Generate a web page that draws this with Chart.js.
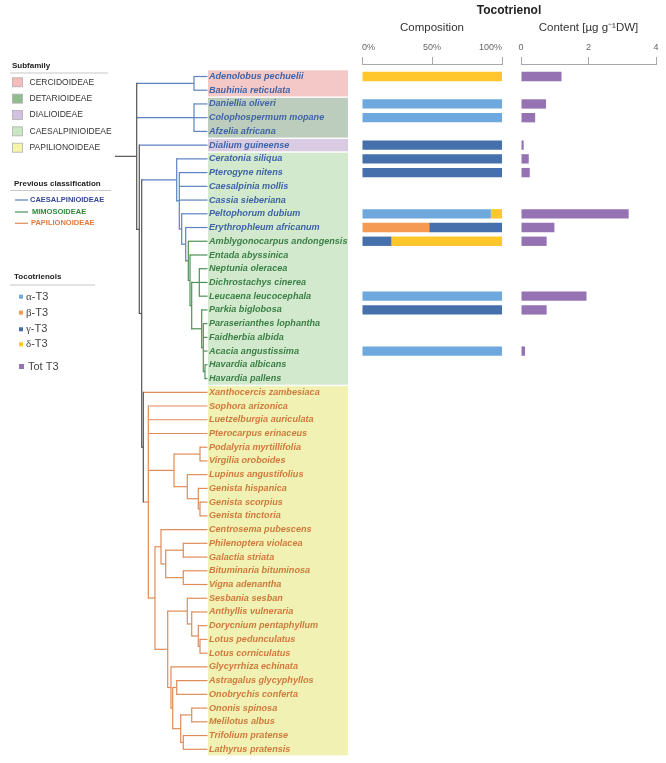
<!DOCTYPE html>
<html><head><meta charset="utf-8">
<script src="https://cdn.jsdelivr.net/npm/chart.js@4.4.1/dist/chart.umd.min.js"></script>
<style>html,body{margin:0;padding:0;background:#fff}canvas{display:block}</style>
</head><body>
<canvas id="c" width="666" height="763"></canvas>
<script>
// ---------------- DATA ----------------
const species = [
  'Adenolobus pechuelii','Bauhinia reticulata','Daniellia oliveri','Colophospermum mopane','Afzelia africana',
  'Dialium guineense','Ceratonia siliqua','Pterogyne nitens','Caesalpinia mollis','Cassia sieberiana',
  'Peltophorum dubium','Erythrophleum africanum','Amblygonocarpus andongensis','Entada abyssinica','Neptunia oleracea',
  'Dichrostachys cinerea','Leucaena leucocephala','Parkia biglobosa','Paraserianthes lophantha','Faidherbia albida',
  'Acacia angustissima','Havardia albicans','Havardia pallens','Xanthocercis zambesiaca','Sophora arizonica',
  'Luetzelburgia auriculata','Pterocarpus erinaceus','Podalyria myrtillifolia','Virgilia oroboides','Lupinus angustifolius',
  'Genista hispanica','Genista scorpius','Genista tinctoria','Centrosema pubescens','Philenoptera violacea',
  'Galactia striata','Bituminaria bituminosa','Vigna adenantha','Sesbania sesban','Anthyllis vulneraria',
  'Dorycnium pentaphyllum','Lotus pedunculatus','Lotus corniculatus','Glycyrrhiza echinata','Astragalus glycyphyllos',
  'Onobrychis conferta','Ononis spinosa','Melilotus albus','Trifolium pratense','Lathyrus pratensis'
];
const _ = null;
// composition (%), rows 0..49
const alphaT3 = [_,_,100,100,_,_,_,_,_,_, 92,_,_,_,_,_,100,_,_,_, 100,_,_,_,_,_,_,_,_,_, _,_,_,_,_,_,_,_,_,_, _,_,_,_,_,_,_,_,_,_];
const betaT3  = [_,_,_,_,_,_,_,_,_,_, _,48,_,_,_,_,_,_,_,_, _,_,_,_,_,_,_,_,_,_, _,_,_,_,_,_,_,_,_,_, _,_,_,_,_,_,_,_,_,_];
const gammaT3 = [_,_,_,_,_,100,100,100,_,_, _,52,21,_,_,_,_,100,_,_, _,_,_,_,_,_,_,_,_,_, _,_,_,_,_,_,_,_,_,_, _,_,_,_,_,_,_,_,_,_];
const deltaT3 = [100,_,_,_,_,_,_,_,_,_, 8,_,79,_,_,_,_,_,_,_, _,_,_,_,_,_,_,_,_,_, _,_,_,_,_,_,_,_,_,_, _,_,_,_,_,_,_,_,_,_];
// content (µg g-1 DW)
const totT3   = [1.2,_,0.74,0.42,_,0.08,0.23,0.26,_,_, 3.19,0.99,0.76,_,_,_,1.94,0.76,_,_, 0.12,_,_,_,_,_,_,_,_,_, _,_,_,_,_,_,_,_,_,_, _,_,_,_,_,_,_,_,_,_];
const compTickStep = 50;
const contTickStep = 2;

const subfamilies = ['CERCIDOIDEAE','DETARIOIDEAE','DIALIOIDEAE','CAESALPINIOIDEAE','PAPILIONOIDEAE'];
const subfamilyFirstRow = [0, 2, 5, 6, 23];
const subfamilyLastRow  = [1, 4, 5, 22, 49];
const prevClasses = ['CAESALPINIOIDEAE','MIMOSOIDEAE','PAPILIONOIDEAE'];
const prevFirstRow = [0, 12, 23];
const prevLastRow  = [11, 22, 49];
const tocoGreek = ['α','β','γ','δ'];

// cladogram: T(depth, clade, ...children), leaves = row indices ; clade -1 = backbone
const T = (d, k, ...ch) => ({d, k, ch});
const mimo = T(73.3,1, 12,
  T(75,1, 13,
    T(76.7,1,
      T(84.3,1, 14,15,16),
      T(86.7,1, 17,
        T(88.3,1, 18,19,20,
          T(90,1, 21,22))))));
const caes = T(61.7,0, 6,
  T(64.3,0, 7,8,9,
    T(66.7,0, 10,
      T(70.7,0, 11, mimo))));
const papA = T(59,2,
  T(85,2, 27,28),
  T(72.3,2, 29,
    T(83.3,2, 30,
      T(85,2, 31,32))));
const papB1 = T(46,2, 33,
  T(50.7,2,
    T(68.3,2, 34,35),
    T(68.3,2, 36,37)));
const papB2a = T(72.3,2, 38,
  T(76.7,2, 39,
    T(83.3,2, 40,
      T(85,2, 41,42))));
const papB2b = T(56,2, 43,
  T(57.7,2,
    T(61.7,2, 44,45),
    T(65.7,2,
      T(76.7,2, 46,47),
      T(68.3,2, 48,49))));
const papil = T(28.3,-1, 23,
  T(33.3,2, 24,25,26, papA,
    T(40,2, papB1,
      T(52.7,2, papB2a, papB2b))));
const tree = T(21.7,-1,
  T(79,0, 0,1),
  T(79,0, 2,3,4),
  T(24.3,-1, 5,
    T(26.7,-1, caes, papil)));

// ---------------- STYLE ----------------
const FONT = '"Liberation Sans", Arial, sans-serif';
const COL = {alpha:'#6fa8dc', beta:'#f59a52', gamma:'#4670ab', delta:'#ffc72c', tot:'#9572b2'};
const SUB_BAND = ['#f5c8c8','#bccdbd','#d8cbe2','#d2e9cd','#f1f1b3'];
const SUB_SWATCH = ['#f4bcbc','#8fbd8f','#d3c1e2','#c9e7c2','#f6f6ab'];
const PREV_TEXT = ['#38489b','#2e8a3e','#e17a3a'];
const PREV_LABEL = ['#3f64a7','#3b8047','#cf7b3d'];
const PREV_LINE = ['#5c82c2','#4c9157','#de8d5a'];
const BACKBONE = '#555';
const TREE_X0 = 115, LEAF_X = 207.5, BAND_L = 208, BAND_R = 348;

Chart.defaults.font.family = FONT;

function prevClassOf(row) {
  for (let i = 0; i < prevClasses.length; i++) if (row >= prevFirstRow[i] && row <= prevLastRow[i]) return i;
  return 0;
}
function lineCol(k) { return k < 0 ? BACKBONE : PREV_LINE[k]; }

function seg(ctx, x1, y1, x2, y2, color) {
  ctx.strokeStyle = color; ctx.beginPath(); ctx.moveTo(x1, y1); ctx.lineTo(x2, y2); ctx.stroke();
}
function drawNode(ctx, n, ys) {
  if (typeof n === 'number') return {x: LEAF_X, y: ys.getPixelForValue(n), k: prevClassOf(n)};
  const kids = n.ch.map(c => drawNode(ctx, c, ys));
  const x = TREE_X0 + n.d;
  const y0 = kids[0].y, y1 = kids[kids.length - 1].y;
  kids.forEach(c => seg(ctx, x, c.y, c.x, c.y, lineCol(c.k)));
  seg(ctx, x, y0 - 0.6, x, y1 + 0.6, lineCol(n.k));
  return {x, y: (y0 + y1) / 2, k: n.k};
}

const decor = {
  id: 'decor',
  beforeDraw(chart) {
    const ctx = chart.ctx, ys = chart.scales.y;
    ctx.save();
    // subfamily bands
    subfamilies.forEach((s, i) => {
      const t = ys.getPixelForValue(subfamilyFirstRow[i] - 0.5) + 0.7;
      const b = ys.getPixelForValue(subfamilyLastRow[i] + 0.5) - 0.7;
      ctx.fillStyle = SUB_BAND[i];
      ctx.fillRect(BAND_L, t, BAND_R - BAND_L, b - t);
    });
    // tree
    ctx.lineWidth = 1.2; ctx.lineCap = 'butt';
    const r = drawNode(ctx, tree, ys);
    seg(ctx, TREE_X0, r.y, r.x, r.y, BACKBONE);

    // legends
    ctx.textBaseline = 'middle'; ctx.textAlign = 'left';
    ctx.lineWidth = 1.2;
    ctx.fillStyle = '#222'; ctx.font = 'bold 8px ' + FONT;
    ctx.fillText('Subfamily', 12, 66);
    seg(ctx, 10, 73, 108, 73, '#c8c8c8');
    subfamilies.forEach((s, i) => {
      const yy = 82.3 + i * 16.35;
      ctx.fillStyle = SUB_SWATCH[i];
      ctx.fillRect(12.5, yy - 4.5, 10, 9);
      ctx.strokeStyle = '#b0b0b0'; ctx.lineWidth = 0.8;
      ctx.strokeRect(12.5, yy - 4.5, 10, 9);
      ctx.fillStyle = '#333'; ctx.font = '8.5px ' + FONT;
      ctx.fillText(s, 29.5, yy);
    });
    ctx.lineWidth = 1.2;
    ctx.fillStyle = '#222'; ctx.font = 'bold 8px ' + FONT;
    ctx.fillText('Previous classification', 14, 184);
    seg(ctx, 10, 190.5, 111, 190.5, '#c8c8c8');
    const prevY = [200, 212, 223.3], prevTx = [30, 32, 31];
    prevClasses.forEach((s, i) => {
      seg(ctx, 15, prevY[i], 28, prevY[i], PREV_LINE[i]);
      ctx.fillStyle = PREV_TEXT[i]; ctx.font = 'bold 7.5px ' + FONT;
      ctx.fillText(s, prevTx[i], prevY[i]);
    });
    ctx.fillStyle = '#222'; ctx.font = 'bold 8px ' + FONT;
    ctx.fillText('Tocotrienols', 14, 277);
    seg(ctx, 10, 285, 95, 285, '#c8c8c8');
    const tCols = [COL.alpha, COL.beta, COL.gamma, COL.delta];
    const tY = [296.7, 312.7, 329.3, 344.3];
    tocoGreek.forEach((g, i) => {
      ctx.fillStyle = tCols[i];
      ctx.fillRect(19, tY[i] - 2, 4, 4);
      ctx.fillStyle = '#444';
      ctx.font = '11px "Liberation Serif", serif';
      ctx.fillText(g, 26, tY[i]);
      const w = ctx.measureText(g).width;
      ctx.font = '11px ' + FONT;
      ctx.fillText('-T3', 26 + w, tY[i]);
    });
    ctx.fillStyle = COL.tot;
    ctx.fillRect(19, 366.5 - 2.5, 5, 5);
    ctx.fillStyle = '#444'; ctx.font = '11px ' + FONT;
    ctx.fillText('Tot T3', 28, 366.5);
    ctx.restore();
  }
};

const rowIdx = species.map((s, i) => i);
const xAxisCommon = {
  type: 'linear', position: 'top', stack: 'top',
  grid: {drawOnChartArea: false, tickLength: 7, color: '#a8a8a8'},
  border: {color: '#a8a8a8'},
  afterFit: s => { s.height = 43.6; s.paddingLeft = 0; s.paddingRight = 0; }
};

new Chart(document.getElementById('c'), {
  type: 'bar',
  data: {
    labels: rowIdx,
    datasets: [
      {label: 'α-T3', data: alphaT3, backgroundColor: COL.alpha, xAxisID: 'xComp'},
      {label: 'β-T3', data: betaT3, backgroundColor: COL.beta, xAxisID: 'xComp'},
      {label: 'γ-T3', data: gammaT3, backgroundColor: COL.gamma, xAxisID: 'xComp'},
      {label: 'δ-T3', data: deltaT3, backgroundColor: COL.delta, xAxisID: 'xComp'},
      {label: 'Tot T3', data: totT3, backgroundColor: COL.tot, xAxisID: 'xCont'}
    ]
  },
  options: {
    indexAxis: 'y', responsive: false, animation: false, devicePixelRatio: 1,
    layout: {padding: {left: 209, right: 10, top: 0, bottom: 7}},
    datasets: {bar: {grouped: false, barPercentage: 0.68, categoryPercentage: 1, borderWidth: 0}},
    plugins: {
      legend: {display: false}, tooltip: {enabled: false},
      title: {display: true, text: 'Tocotrienol', fullSize: false, color: '#222',
              font: {size: 12, weight: 'bold'}, padding: {top: 3, bottom: 3}}
    },
    scales: {
      y: {
        type: 'linear', reverse: true, offset: false, min: -0.91, max: 49.49, bounds: 'data',
        afterBuildTicks: s => { s.ticks = rowIdx.map(v => ({value: v})); },
        afterFit: s => { s.width = 153; },
        grid: {display: false, offset: false}, border: {display: false},
        ticks: {
          autoSkip: false, crossAlign: 'far', padding: 0,
          callback: v => species[v],
          color: c => PREV_LABEL[prevClassOf(c.index)],
          font: {size: 9.1, style: 'italic', weight: 'bold'}
        }
      },
      xCont: Object.assign({}, xAxisCommon, {
        stackWeight: 135, min: 0, max: 4,
        ticks: {stepSize: contTickStep, padding: 4, color: '#666', font: {size: 9}},
        title: {display: true, text: 'Content [µg g⁻¹DW]', color: '#333', font: {size: 11.5}, padding: {top: 1, bottom: 0}}
      }),
      xGap: {
        type: 'linear', position: 'top', stack: 'top', stackWeight: 19,
        ticks: {display: false}, grid: {display: false}, border: {display: false},
        afterFit: s => { s.height = 43.6; s.paddingLeft = 0; s.paddingRight = 0; }
      },
      xComp: Object.assign({}, xAxisCommon, {
        stackWeight: 140, min: 0, max: 100, stacked: true,
        ticks: {stepSize: compTickStep, align: 'inner', padding: 4, color: '#666', font: {size: 9},
                callback: v => v + '%'},
        title: {display: true, text: 'Composition', color: '#333', font: {size: 11.5}, padding: {top: 1, bottom: 0}}
      })
    }
  },
  plugins: [decor]
});
</script>
</body></html>
